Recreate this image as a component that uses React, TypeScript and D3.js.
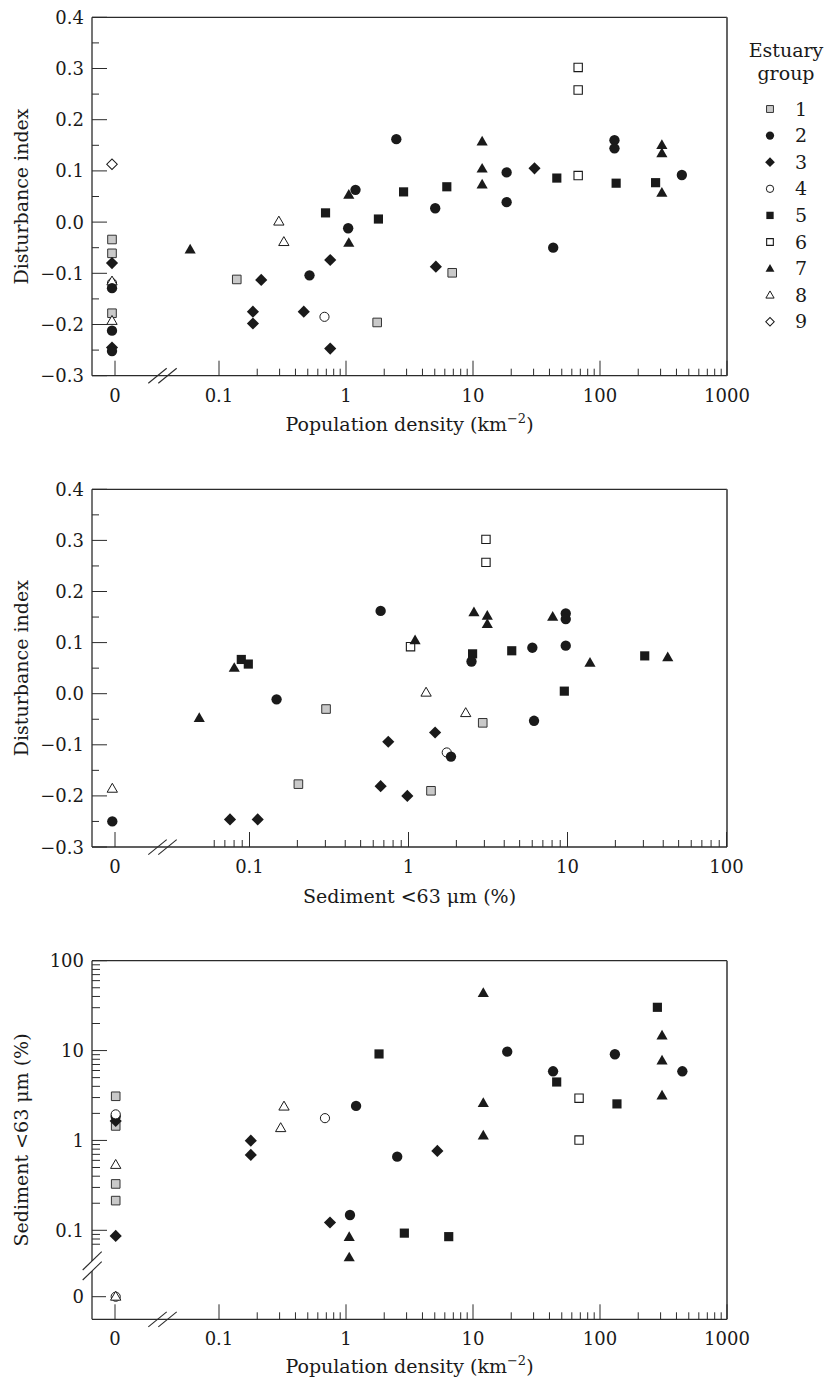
import React from 'react';
import * as d3 from 'd3';

// ---------- DATA ----------
// [estuary group, population density (km^-2, 0 = none), disturbance index]
const densityVsDisturbance: [number, number, number][] = [
  [9, 0, 0.113], [1, 0, -0.034], [1, 0, -0.061], [3, 0, -0.08], [4, 0, -0.119],
  [8, 0, -0.116], [2, 0, -0.129], [1, 0, -0.178], [8, 0, -0.193], [2, 0, -0.212],
  [3, 0, -0.245], [2, 0, -0.252],
  [7, 0.0593, -0.054], [1, 0.138, -0.112], [3, 0.215, -0.113], [3, 0.185, -0.175],
  [3, 0.185, -0.198], [8, 0.296, 0.001], [8, 0.324, -0.039], [3, 0.465, -0.175],
  [2, 0.516, -0.104], [4, 0.677, -0.185], [5, 0.69, 0.018], [3, 0.751, -0.074],
  [3, 0.751, -0.247], [7, 1.052, 0.053], [2, 1.188, 0.063], [2, 1.04, -0.012],
  [7, 1.052, -0.041], [5, 1.8, 0.006], [1, 1.76, -0.196], [2, 2.49, 0.162],
  [5, 2.84, 0.059], [2, 5.04, 0.027], [3, 5.1, -0.087], [1, 6.86, -0.099],
  [5, 6.22, 0.069], [7, 11.8, 0.157], [7, 11.8, 0.104], [7, 11.8, 0.073],
  [2, 18.4, 0.097], [2, 18.4, 0.039], [3, 30.5, 0.105], [2, 42.8, -0.05],
  [5, 45.7, 0.086], [6, 67.3, 0.302], [6, 67.3, 0.258], [6, 67.3, 0.091],
  [2, 130, 0.16], [2, 130, 0.144], [5, 134, 0.076], [5, 274, 0.077],
  [7, 307, 0.15], [7, 307, 0.134], [7, 307, 0.057], [2, 441, 0.092],
];

// [estuary group, sediment <63 µm (%), 0 = none), disturbance index]
const sedimentVsDisturbance: [number, number, number][] = [
  [8, 0, -0.186], [2, 0, -0.25],
  [7, 0.0483, -0.048], [3, 0.0754, -0.246], [3, 0.1126, -0.246], [7, 0.0802, 0.05],
  [5, 0.0888, 0.067], [5, 0.0983, 0.058], [2, 0.148, -0.011], [1, 0.303, -0.03],
  [1, 0.203, -0.177], [2, 0.668, 0.162], [3, 0.746, -0.094], [3, 0.668, -0.181],
  [3, 0.983, -0.2], [6, 1.03, 0.092], [7, 1.1, 0.104], [8, 1.29, 0.002],
  [3, 1.47, -0.076], [4, 1.74, -0.115], [2, 1.85, -0.123], [1, 1.385, -0.19],
  [8, 2.29, -0.038], [1, 2.93, -0.057], [7, 2.58, 0.159], [7, 3.13, 0.152],
  [7, 3.13, 0.136], [6, 3.07, 0.302], [6, 3.07, 0.257], [5, 2.53, 0.078],
  [2, 2.49, 0.063], [5, 4.46, 0.084], [2, 6.01, 0.09], [2, 6.16, -0.053],
  [7, 8.07, 0.15], [2, 9.75, 0.157], [2, 9.75, 0.146], [2, 9.75, 0.094],
  [5, 9.55, 0.005], [7, 13.85, 0.06], [5, 30.6, 0.074], [7, 42.7, 0.071],
];

// [estuary group, population density (km^-2), sediment <63 µm (%)]
const densityVsSediment: [number, number, number][] = [
  [1, 0, 3.1], [1, 0, 1.45], [3, 0, 1.65], [2, 0, 1.85], [4, 0, 1.95],
  [8, 0, 0.534], [1, 0, 0.328], [1, 0, 0.214], [3, 0, 0.0866], [4, 0, 0], [8, 0, 0],
  [3, 0.178, 0.995], [3, 0.178, 0.69], [8, 0.325, 2.38], [8, 0.306, 1.37],
  [4, 0.683, 1.77], [2, 1.2, 2.42], [5, 1.82, 9.17], [2, 2.53, 0.66],
  [3, 0.748, 0.122], [2, 1.075, 0.148], [7, 1.06, 0.0838], [7, 1.06, 0.0497],
  [5, 2.88, 0.093], [5, 6.44, 0.085], [3, 5.24, 0.764], [7, 12.05, 43.4],
  [7, 12.05, 2.59], [7, 12.05, 1.13], [2, 18.6, 9.72], [2, 42.7, 5.88],
  [5, 45.6, 4.47], [6, 68.4, 2.95], [6, 68.4, 1.01], [2, 131, 9.1],
  [5, 136, 2.55], [5, 283, 30.3], [7, 308, 14.6], [7, 308, 7.72],
  [7, 308, 3.15], [2, 445, 5.88],
];

const legendGroups = [1, 2, 3, 4, 5, 6, 7, 8, 9];
const legendTitle = ['Estuary', 'group'];
const densityTickLabels = ['0.1', '1', '10', '100', '1000'];
const sedimentTickLabels = ['0.1', '1', '10', '100'];
const sedimentLogLabels = ['0.1', '1', '10', '100'];

// ---------- LAYOUT ----------
const W = 828;
const H = 1380;
const LEFT = 92;
const RIGHT = 727;
const FONT = "'DejaVu Serif', 'Liberation Serif', serif";
const TICK_FS = 18;
const TITLE_FS = 19;
const INK = '#1a1a1a';
const AXIS = '#2b2b2b';

function Marker({ g, cx, cy, s = 1 }: { g: number; cx: number; cy: number; s?: number }) {
  const sq = d3.symbol().type(d3.symbolSquare);
  const ci = d3.symbol().type(d3.symbolCircle);
  const tr = d3.symbol().type(d3.symbolTriangle);
  const t = `translate(${cx},${cy})`;
  switch (g) {
    case 1:
      return <path d={sq.size(74 * s * s)()!} transform={t} fill="#c9c9c9" stroke="#333" strokeWidth={1} />;
    case 2:
      return <path d={ci.size(84 * s * s)()!} transform={t} fill={INK} />;
    case 3:
      return <path d={sq.size(74 * s * s)()!} transform={`${t} rotate(45)`} fill={INK} />;
    case 4:
      return <path d={ci.size(66 * s * s)()!} transform={t} fill="#fff" stroke={INK} strokeWidth={1} />;
    case 5:
      return <path d={sq.size(84 * s * s)()!} transform={t} fill={INK} />;
    case 6:
      return <path d={sq.size(70 * s * s)()!} transform={t} fill="#fff" stroke={INK} strokeWidth={1.1} />;
    case 7:
      return <path d={tr.size(54 * s * s)()!} transform={`${t} translate(0,0.5)`} fill={INK} />;
    case 8:
      return <path d={tr.size(46 * s * s)()!} transform={`${t} translate(0,0.5)`} fill="#fff" stroke={INK} strokeWidth={1} />;
    case 9:
      return <path d={sq.size(56 * s * s)()!} transform={`${t} rotate(45)`} fill="#fff" stroke={INK} strokeWidth={1} />;
    default:
      return null;
  }
}

const isMajor = (v: number) => Math.abs(Math.log10(v) - Math.round(Math.log10(v))) < 1e-6;

function XBreak({ bottom }: { bottom: number }) {
  return (
    <g stroke={AXIS} strokeWidth={1.1}>
      <line x1={148.3} y1={bottom + 7.6} x2={166.7} y2={bottom - 7.4} />
      <line x1={158.3} y1={bottom + 7.6} x2={176.7} y2={bottom - 7.4} />
    </g>
  );
}

function LogXAxis({
  x, tickDomain, bottom, zeroX, labels,
}: {
  x: d3.ScaleLogarithmic<number, number>;
  tickDomain: [number, number];
  bottom: number;
  zeroX: number;
  labels: string[];
}) {
  const ticks = d3.scaleLog().domain(tickDomain).ticks();
  const majors = ticks.filter(isMajor);
  return (
    <g>
      <line x1={zeroX} x2={zeroX} y1={bottom} y2={bottom - 15} stroke={AXIS} strokeWidth={1} />
      {ticks.map((v, i) => (
        <line key={i} x1={x(v)} x2={x(v)} y1={bottom} y2={bottom - (isMajor(v) ? 15 : 7)} stroke={AXIS} strokeWidth={1} />
      ))}
      <text x={zeroX} y={bottom + 26} textAnchor="middle" fontSize={TICK_FS} fontFamily={FONT} fill={INK}>0</text>
      {majors.map((v, i) => (
        <text key={i} x={x(v)} y={bottom + 26} textAnchor="middle" fontSize={TICK_FS} fontFamily={FONT} fill={INK}>
          {labels[i]}
        </text>
      ))}
      <XBreak bottom={bottom} />
    </g>
  );
}

function LinearYAxis({ y }: { y: d3.ScaleLinear<number, number> }) {
  const ticks = y.ticks(14);
  const fmt = d3.format('.1f');
  return (
    <g>
      {ticks.map((v, i) => {
        const major = Math.abs(v * 10 - Math.round(v * 10)) < 1e-6;
        return (
          <g key={i}>
            <line x1={LEFT} x2={LEFT + (major ? 15 : 7)} y1={y(v)} y2={y(v)} stroke={AXIS} strokeWidth={1} />
            {major && (
              <text x={84} y={y(v) + 6.5} textAnchor="end" fontSize={TICK_FS} fontFamily={FONT} fill={INK}>
                {fmt(v)}
              </text>
            )}
          </g>
        );
      })}
    </g>
  );
}

function Frame({ top, bottom, yGap }: { top: number; bottom: number; yGap?: [number, number] }) {
  return (
    <g fill="none">
      <line x1={LEFT} x2={RIGHT} y1={top} y2={top} stroke={AXIS} strokeWidth={1.2} />
      <line x1={LEFT} x2={RIGHT} y1={bottom} y2={bottom} stroke={AXIS} strokeWidth={1.3} />
      <line x1={RIGHT} x2={RIGHT} y1={top} y2={bottom} stroke="#555" strokeWidth={1.8} />
      {yGap ? (
        <>
          <line x1={LEFT} x2={LEFT} y1={top} y2={yGap[0]} stroke={AXIS} strokeWidth={1.3} />
          <line x1={LEFT} x2={LEFT} y1={yGap[1]} y2={bottom} stroke={AXIS} strokeWidth={1.3} />
        </>
      ) : (
        <line x1={LEFT} x2={LEFT} y1={top} y2={bottom} stroke={AXIS} strokeWidth={1.3} />
      )}
    </g>
  );
}

function YTitle({ cy, children }: { cy: number; children: React.ReactNode }) {
  return (
    <text
      transform={`translate(28,${cy}) rotate(-90)`}
      textAnchor="middle"
      fontSize={TITLE_FS}
      fontFamily={FONT}
      fill={INK}
    >
      {children}
    </text>
  );
}

function XTitle({ y, children }: { y: number; children: React.ReactNode }) {
  return (
    <text x={(LEFT + RIGHT) / 2} y={y} textAnchor="middle" fontSize={TITLE_FS} fontFamily={FONT} fill={INK}>
      {children}
    </text>
  );
}

const densityTitle = (
  <>
    Population density (km<tspan fontSize={13} dy={-8}>−2</tspan>
    <tspan dy={8}>)</tspan>
  </>
);

export default function App() {
  // Panel 1
  const p1Top = 17.3, p1Bottom = 375.7;
  const xDen = d3.scaleLog().domain([0.1, 1000]).range([219, 727]);
  const y1 = d3.scaleLinear().domain([-0.3, 0.4]).range([p1Bottom, p1Top]);

  // Panel 2
  const p2Top = 489.3, p2Bottom = 847;
  const xSed = d3.scaleLog().domain([0.1, 100]).range([249.5, 726.5]);
  const y2 = d3.scaleLinear().domain([-0.3, 0.4]).range([p2Bottom, p2Top]);

  // Panel 3
  const p3Top = 960.7, p3Bottom = 1319.3;
  const y3 = d3.scaleLog().domain([0.1, 100]).range([1230.3, 960.7]);
  const y3Zero = 1296.7;
  const y3Ticks = d3.scaleLog().domain([0.07, 100]).ticks();
  const y3Majors = y3Ticks.filter(isMajor);

  const zeroTick = 115;

  return (
    <svg
      width={W}
      height={H}
      viewBox={`0 0 ${W} ${H}`}
      style={{ position: 'absolute', left: 0, top: 0, background: '#fff' }}
    >
      <rect width={W} height={H} fill="#fff" />

      {/* ---------- Panel 1 ---------- */}
      <Frame top={p1Top} bottom={p1Bottom} />
      <LinearYAxis y={y1} />
      <LogXAxis x={xDen} tickDomain={[0.1, 1000]} bottom={p1Bottom} zeroX={zeroTick} labels={densityTickLabels} />
      {densityVsDisturbance.map(([g, xv, yv], i) => (
        <Marker key={i} g={g} cx={xv === 0 ? 112 : xDen(xv)} cy={y1(yv)} />
      ))}
      <YTitle cy={(p1Top + p1Bottom) / 2}>Disturbance index</YTitle>
      <XTitle y={p1Bottom + 55}>{densityTitle}</XTitle>

      {/* Legend */}
      <g fontFamily={FONT} fontSize={TITLE_FS} fill={INK}>
        <text x={786} y={57} textAnchor="middle">{legendTitle[0]}</text>
        <text x={786} y={80} textAnchor="middle">{legendTitle[1]}</text>
        {legendGroups.map((g, i) => {
          const cy = 109 + i * 26.6;
          return (
            <g key={g}>
              <Marker g={g} cx={770} cy={cy} s={0.8} />
              <text x={801} y={cy + 6.5} textAnchor="middle" fontSize={TITLE_FS}>{String(g)}</text>
            </g>
          );
        })}
      </g>

      {/* ---------- Panel 2 ---------- */}
      <Frame top={p2Top} bottom={p2Bottom} />
      <LinearYAxis y={y2} />
      <LogXAxis x={xSed} tickDomain={[0.06, 100]} bottom={p2Bottom} zeroX={zeroTick} labels={sedimentTickLabels} />
      {sedimentVsDisturbance.map(([g, xv, yv], i) => (
        <Marker key={i} g={g} cx={xv === 0 ? 112.3 : xSed(xv)} cy={y2(yv)} />
      ))}
      <YTitle cy={(p2Top + p2Bottom) / 2}>Disturbance index</YTitle>
      <XTitle y={p2Bottom + 56}>Sediment &lt;63 μm (%)</XTitle>

      {/* ---------- Panel 3 ---------- */}
      <Frame top={p3Top} bottom={p3Bottom} yGap={[1261, 1271]} />
      <g>
        {y3Ticks.map((v, i) => (
          <line key={i} x1={LEFT} x2={LEFT + (isMajor(v) ? 15 : 8)} y1={y3(v)} y2={y3(v)} stroke={AXIS} strokeWidth={1} />
        ))}
        {y3Majors.map((v, i) => (
          <text key={i} x={84} y={y3(v) + 6.5} textAnchor="end" fontSize={TICK_FS} fontFamily={FONT} fill={INK}>
            {sedimentLogLabels[i]}
          </text>
        ))}
        <line x1={LEFT} x2={LEFT + 14} y1={y3Zero} y2={y3Zero} stroke={AXIS} strokeWidth={1} />
        <text x={84} y={y3Zero + 6.5} textAnchor="end" fontSize={TICK_FS} fontFamily={FONT} fill={INK}>0</text>
        <g stroke={AXIS} strokeWidth={1.1}>
          <line x1={82.7} y1={1280} x2={101.7} y2={1261.7} />
          <line x1={82.7} y1={1270} x2={101.7} y2={1251.7} />
        </g>
      </g>
      <LogXAxis x={xDen} tickDomain={[0.1, 1000]} bottom={p3Bottom} zeroX={zeroTick} labels={densityTickLabels} />
      {densityVsSediment.map(([g, xv, yv], i) => (
        <Marker key={i} g={g} cx={xv === 0 ? 115.7 : xDen(xv)} cy={yv === 0 ? y3Zero : y3(yv)} />
      ))}
      <YTitle cy={(p3Top + p3Bottom) / 2}>Sediment &lt;63 μm (%)</YTitle>
      <XTitle y={p3Bottom + 54}>{densityTitle}</XTitle>
    </svg>
  );
}
